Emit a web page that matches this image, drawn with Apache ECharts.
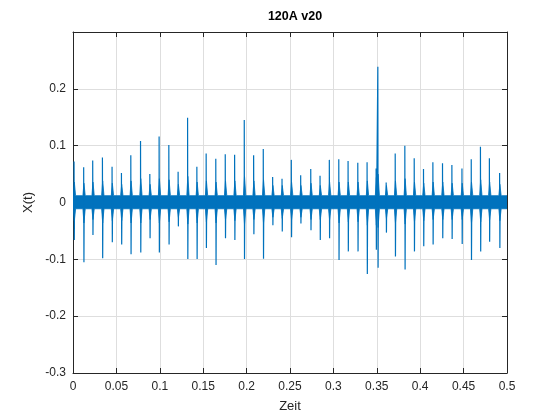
<!DOCTYPE html>
<html>
<head>
<meta charset="utf-8">
<script src="https://cdn.jsdelivr.net/npm/echarts@6/dist/echarts.min.js"></script>
<style>html,body{margin:0;padding:0;background:#fff;}#c{width:560px;height:420px;}</style>
</head>
<body>
<div id="c"></div>
<script>
// Impulse times (s)
const spikeTimes = [0.0012,0.0123,0.0227,0.0339,0.0450,0.0558,0.0666,0.0778,0.0885,0.0992,0.1104,0.1211,0.1320,0.1427,0.1534,0.1645,0.1754,0.1862,0.1973,0.2081,0.2192,0.2300,0.2408,0.2515,0.2623,0.2739,0.2846,0.2953,0.3062,0.3169,0.3281,0.3388,0.3492,0.3512,0.3608,0.3712,0.3823,0.3931,0.4038,0.4146,0.4257,0.4365,0.4481,0.4588,0.4694,0.4797,0.4915];
// Impulse peak values
const spikeTops = [0.072,0.062,0.074,0.079,0.063,0.052,0.083,0.108,0.050,0.116,0.101,0.054,0.149,0.063,0.086,0.077,0.085,0.084,0.145,0.083,0.094,0.045,0.042,0.075,0.048,0.059,0.047,0.075,0.076,0.073,0.070,0.071,0.060,0.239,0.035,0.086,0.100,0.078,0.059,0.071,0.069,0.066,0.060,0.076,0.098,0.078,0.052];
// Impulse trough values
const spikeBottoms = [-0.066,-0.105,-0.057,-0.098,-0.070,-0.074,-0.091,-0.088,-0.063,-0.088,-0.074,-0.042,-0.0995,-0.0995,-0.080,-0.110,-0.063,-0.066,-0.0995,-0.056,-0.099,-0.040,-0.051,-0.061,-0.037,-0.049,-0.066,-0.063,-0.101,-0.086,-0.086,-0.126,-0.083,-0.115,-0.053,-0.095,-0.118,-0.086,-0.077,-0.074,-0.063,-0.064,-0.073,-0.101,-0.086,-0.069,-0.080];
// Ringing envelope right at each impulse
const burstUp = [0.036,0.034,0.036,0.038,0.034,0.032,0.038,0.042,0.032,0.042,0.040,0.032,0.046,0.036,0.038,0.036,0.038,0.038,0.046,0.038,0.040,0.030,0.030,0.036,0.030,0.034,0.030,0.036,0.036,0.036,0.036,0.038,0.044,0.050,0.030,0.038,0.042,0.036,0.034,0.036,0.036,0.034,0.034,0.036,0.040,0.036,0.032];
const burstDown = [-0.032,-0.036,-0.030,-0.036,-0.032,-0.032,-0.036,-0.036,-0.030,-0.036,-0.034,-0.026,-0.038,-0.036,-0.034,-0.036,-0.030,-0.032,-0.038,-0.030,-0.036,-0.026,-0.028,-0.030,-0.026,-0.030,-0.030,-0.030,-0.036,-0.034,-0.034,-0.040,-0.040,-0.044,-0.028,-0.036,-0.038,-0.034,-0.032,-0.030,-0.030,-0.030,-0.030,-0.036,-0.034,-0.030,-0.032];
// Background noise band between impulses
const quietUp = 0.012;
const quietDown = -0.011;
// Axis ticks
const xTicks = [0,0.05,0.1,0.15,0.2,0.25,0.3,0.35,0.4,0.45,0.5];
const yTicks = [-0.3,-0.2,-0.1,0,0.1,0.2,0.3];

const color = '#0072BD';
const axisColor = '#262626';
const font = 'Liberation Sans';

// spike line points
const spikeData = [];
spikeTimes.forEach((t, i) => {
  spikeData.push([t, 0], [t, spikeTops[i]], [t + 0.0003, spikeBottoms[i]], [t + 0.0006, 0]);
});

// band envelope
const upPts = [[0, quietUp]];
const loPts = [[0, quietDown]];
spikeTimes.forEach((t, i) => {
  upPts.push([t - 0.0009, quietUp], [t + 0.0003, burstUp[i]], [t + 0.0018, quietUp]);
  loPts.push([t - 0.0009, quietDown], [t + 0.0003, burstDown[i]], [t + 0.0018, quietDown]);
});
upPts.push([0.5, quietUp]);
loPts.push([0.5, quietDown]);
const clampX = p => [Math.max(0, Math.min(0.5, p[0])), p[1]];
const upSorted = upPts.map(clampX).sort((a, b) => a[0] - b[0]);
const loSorted = loPts.map(clampX).sort((a, b) => a[0] - b[0]);

const fmt = v => String(+v.toFixed(2));

const chart = echarts.init(document.getElementById('c'), null, {renderer: 'canvas'});
chart.setOption({
  animation: false,
  backgroundColor: '#fff',
  title: {
    text: '120A v20', left: 290, top: 5, textAlign: 'center',
    textStyle: {fontFamily: font, fontSize: 12.5, fontWeight: 'bold', color: '#000'}
  },
  grid: {left: 73, top: 32, width: 434, height: 341, containLabel: false, outerBoundsMode: 'none'},
  xAxis: [{
    type: 'value', min: xTicks[0], max: xTicks[xTicks.length - 1], interval: 0.05, position: 'bottom',
    name: 'Zeit', nameLocation: 'middle', nameGap: 27,
    nameTextStyle: {fontFamily: font, fontSize: 13, color: axisColor},
    axisLine: {show: true, onZero: false, lineStyle: {color: axisColor, width: 1}},
    axisTick: {show: true, inside: true, length: 5, lineStyle: {color: axisColor}},
    axisLabel: {fontFamily: font, fontSize: 12, color: axisColor, margin: 8, formatter: fmt},
    splitLine: {show: true, lineStyle: {color: '#dedede', width: 1}}
  }, {
    type: 'value', min: 0, max: 0.5, interval: 0.05, position: 'top',
    axisLine: {show: true, onZero: false, lineStyle: {color: axisColor, width: 1}},
    axisTick: {show: true, inside: true, length: 5, lineStyle: {color: axisColor}},
    axisLabel: {show: false}, splitLine: {show: false}
  }],
  yAxis: [{
    type: 'value', min: yTicks[0], max: yTicks[yTicks.length - 1], interval: 0.1, position: 'left',
    name: 'X(t)', nameLocation: 'middle', nameGap: 36,
    nameTextStyle: {fontFamily: font, fontSize: 13, color: axisColor},
    axisLine: {show: true, onZero: false, lineStyle: {color: axisColor, width: 1}},
    axisTick: {show: true, inside: true, length: 5, lineStyle: {color: axisColor}},
    axisLabel: {fontFamily: font, fontSize: 12, color: axisColor, margin: 7,
      formatter: v => (Math.abs(v - 0.3) < 1e-9 ? '' : fmt(v))},
    splitLine: {show: true, lineStyle: {color: '#dedede', width: 1}}
  }, {
    type: 'value', min: -0.3, max: 0.3, interval: 0.1, position: 'right',
    axisLine: {show: true, onZero: false, lineStyle: {color: axisColor, width: 1}},
    axisTick: {show: true, inside: true, length: 5, lineStyle: {color: axisColor}},
    axisLabel: {show: false}, splitLine: {show: false}
  }],
  series: [{
    type: 'custom',
    xAxisIndex: 0, yAxisIndex: 0,
    data: [0],
    clip: true,
    renderItem: (params, api) => {
      const pts = upSorted.map(p => api.coord(p)).concat(loSorted.slice().reverse().map(p => api.coord(p)));
      return {type: 'polygon', shape: {points: pts}, style: {fill: color, stroke: color, lineWidth: 0.8}};
    },
    silent: true, z: 2
  }, {
    type: 'line',
    xAxisIndex: 0, yAxisIndex: 0,
    data: spikeData,
    showSymbol: false, symbol: 'none',
    lineStyle: {color: color, width: 1.2},
    clip: true, silent: true, z: 3
  }]
});
</script>
</body>
</html>
